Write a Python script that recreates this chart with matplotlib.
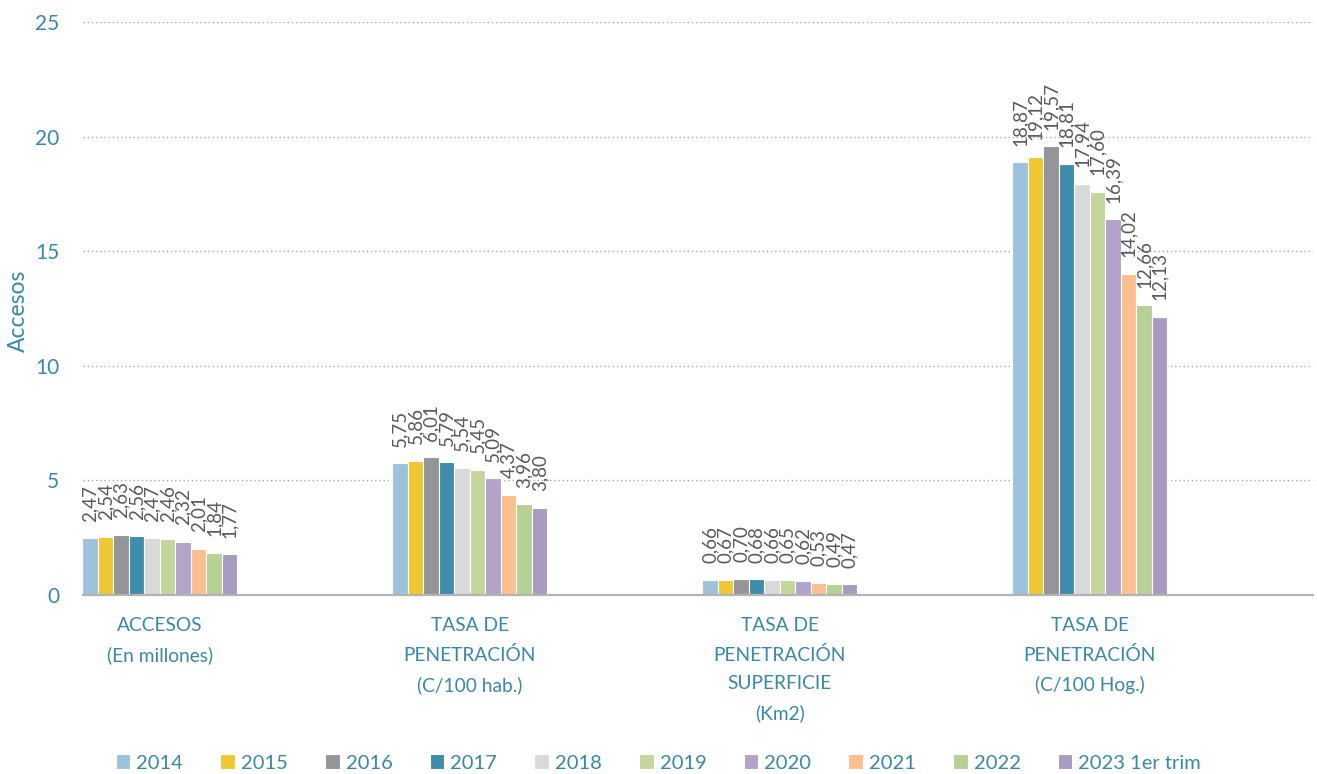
import matplotlib
matplotlib.use("Agg")
import matplotlib.pyplot as plt
import numpy as np

categories = ["ACCESOS\n(En millones)",
              "TASA DE\nPENETRACIÓN\n(C/100 hab.)",
              "TASA DE\nPENETRACIÓN\nSUPERFICIE\n(Km2)",
              "TASA DE\nPENETRACIÓN\n(C/100 Hog.)"]
series_names = ["2014", "2015", "2016", "2017", "2018", "2019", "2020", "2021", "2022", "2023 1er trim"]
values = {
    "2014": [2.47, 5.75, 0.66, 18.87],
    "2015": [2.54, 5.86, 0.67, 19.12],
    "2016": [2.63, 6.01, 0.70, 19.57],
    "2017": [2.56, 5.79, 0.68, 18.81],
    "2018": [2.47, 5.54, 0.66, 17.94],
    "2019": [2.46, 5.45, 0.65, 17.60],
    "2020": [2.32, 5.09, 0.62, 16.39],
    "2021": [2.01, 4.37, 0.53, 14.02],
    "2022": [1.84, 3.96, 0.49, 12.66],
    "2023 1er trim": [1.77, 3.80, 0.47, 12.13],
}
colors = ["#9dc3dc", "#eec733", "#939598", "#3f8cad", "#d9d9d9",
          "#c4d69c", "#b3a3c9", "#fac090", "#b8cf96", "#a99bbf"]
y_ticks = [0, 5, 10, 15, 20, 25]

plt.rcParams['font.family'] = ['Lato', 'DejaVu Sans']
teal = "#3a87a8"
label_gray = "#595959"

W, H = 1317, 774
fig = plt.figure(figsize=(W / 100, H / 100), dpi=100)
ax = fig.add_axes([83 / W, (H - 595) / H, (1313 - 83) / W, (595 - 22) / H])

x = np.arange(len(categories))
slot = 0.05
n = len(series_names)
for i, (name, col) in enumerate(zip(series_names, colors)):
    offs = (i - (n - 1) / 2) * slot
    bars = ax.bar(x + offs, values[name], width=slot, color=col,
                  edgecolor="white", linewidth=0.8, label=name, zorder=3)
    for b, v in zip(bars, values[name]):
        ax.annotate(f"{v:.2f}".replace(".", ","),
                    (b.get_x() + b.get_width() / 2, b.get_height()),
                    xytext=(0, 12), textcoords="offset points",
                    rotation=90, ha="center", va="bottom",
                    fontsize=13.5, color=label_gray)

ax.set_xlim(-0.248, 3.72)
ax.set_ylim(0, 25)
ax.set_yticks(y_ticks)
ax.set_yticklabels([str(t) for t in y_ticks], color=teal, fontsize=15)
ax.tick_params(axis="y", length=0, pad=17)
ax.set_xticks(x)
ax.set_xticklabels(categories, color=teal, fontsize=13.8, linespacing=1.8, va="top")
ax.tick_params(axis="x", length=0, pad=16)

ax.yaxis.grid(True, linestyle=(0, (1, 2)), color="#a6a6a6", linewidth=1.0, zorder=0)
for s in ["top", "right", "left"]:
    ax.spines[s].set_visible(False)
ax.spines["bottom"].set_color("#b3b3b3")
ax.spines["bottom"].set_linewidth(1.6)
ax.spines["bottom"].set_zorder(4)

fig.text(18 / W, 1 - 311 / H, "Accesos", color=teal, fontsize=16.5,
         rotation=90, ha="center", va="center")

leg = fig.legend(loc="center", bbox_to_anchor=(0.5, (H - 763) / H),
                 ncol=n, frameon=False, fontsize=14.5, handlelength=0.72, handleheight=0.72,
                 handletextpad=0.3, columnspacing=1.85)
for t in leg.get_texts():
    t.set_color(teal)

fig.savefig("out.png", dpi=100)
